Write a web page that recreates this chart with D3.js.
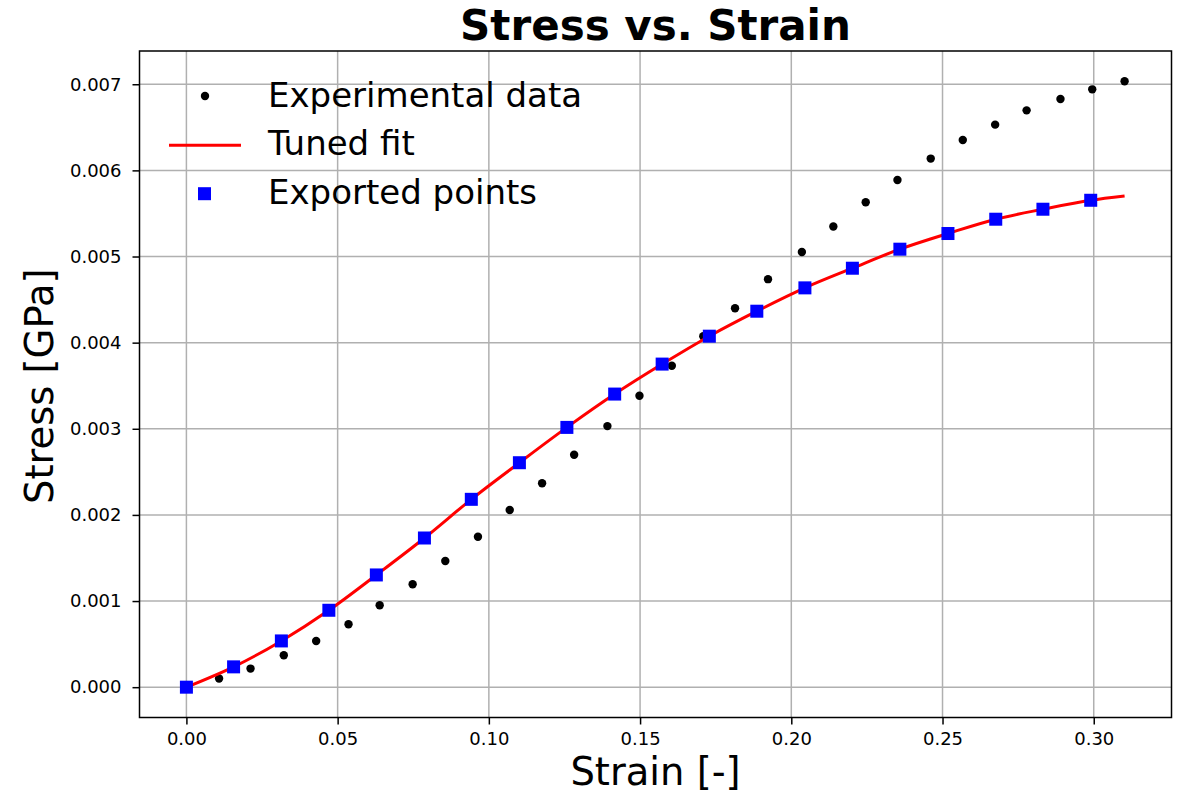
<!DOCTYPE html>
<html>
<head>
<meta charset="utf-8">
<script src="https://cdn.jsdelivr.net/npm/d3@7"></script>
<style>
  body { margin: 0; background: #fff; }
  svg text { font-family: "DejaVu Sans", sans-serif; }
  .grid line { stroke: #b0b0b0; stroke-width: 1.5; }
  .axis path { display: none; }
  .axis line { stroke: #000; stroke-width: 1.5; }
  .axis text { font-size: 18px; fill: #000; font-family: "DejaVu Sans", sans-serif; }
</style>
</head>
<body>
<svg width="1177" height="798"></svg>
<script>
const expStrain = [0.0108, 0.0212, 0.0322, 0.0429, 0.0536, 0.0639, 0.0748, 0.0856, 0.0964, 0.1069,
                   0.1176, 0.1282, 0.1392, 0.1498, 0.1605, 0.1709, 0.1814, 0.1923, 0.2035, 0.2139,
                   0.2246, 0.2351, 0.2461, 0.2567, 0.2674, 0.2778, 0.2890, 0.2995, 0.3102];
const expStress = [0.000100, 0.000216, 0.000371, 0.000537, 0.000731, 0.000951, 0.001195, 0.001465, 0.001747, 0.002057,
                   0.002367, 0.002698, 0.003031, 0.003383, 0.003731, 0.004075, 0.004400, 0.004737, 0.005053, 0.005348,
                   0.005630, 0.005889, 0.006137, 0.006353, 0.006531, 0.006697, 0.006828, 0.006941, 0.007034];

// exported points on the tuned fit
const expoStrain = [0.0000, 0.0156, 0.0314, 0.0471, 0.0628, 0.0787, 0.0942, 0.1101, 0.1258, 0.1416,
                    0.1573, 0.1729, 0.1886, 0.2045, 0.2202, 0.2359, 0.2518, 0.2676, 0.2832, 0.2990];
const expoStress = [0.000000, 0.000236, 0.000537, 0.000893, 0.001303, 0.001732, 0.002181, 0.002606, 0.003016, 0.003403,
                    0.003751, 0.004075, 0.004365, 0.004636, 0.004864, 0.005085, 0.005267, 0.005433, 0.005549, 0.005653];

// tuned fit curve end
const fitEndStrain = 0.3102;
const fitEndStress = 0.005703;

const xTicks = [0.00, 0.05, 0.10, 0.15, 0.20, 0.25, 0.30];
const yTicks = [0.000, 0.001, 0.002, 0.003, 0.004, 0.005, 0.006, 0.007];

const svg = d3.select('svg');
const margin = {top: 51, left: 139.5, right: 5.5, bottom: 80.5};
const WIDTH = +svg.attr('width');
const HEIGHT = +svg.attr('height');
const width = WIDTH - margin.left - margin.right;
const height = HEIGHT - margin.top - margin.bottom;

const xScale = d3.scaleLinear().domain([-0.01551, 0.32571]).range([0, width]);
const yScale = d3.scaleLinear().domain([-0.000352, 0.007386]).range([height, 0]);

const g = svg.append('g').attr('transform', 'translate(' + margin.left + ',' + margin.top + ')');

// grid
g.append('g').attr('class', 'grid')
    .selectAll('line.gx').data(xTicks).enter().append('line')
    .attr('x1', d => xScale(d)).attr('x2', d => xScale(d))
    .attr('y1', 0).attr('y2', height);
g.append('g').attr('class', 'grid')
    .selectAll('line.gy').data(yTicks).enter().append('line')
    .attr('y1', d => yScale(d)).attr('y2', d => yScale(d))
    .attr('x1', 0).attr('x2', width);

// axes
g.append('g').attr('class', 'axis')
    .attr('transform', 'translate(0,' + height + ')')
    .call(d3.axisBottom(xScale).tickValues(xTicks).tickFormat(d3.format('.2f')).tickSize(7).tickPadding(8));
g.append('g').attr('class', 'axis')
    .call(d3.axisLeft(yScale).tickValues(yTicks).tickFormat(d3.format('.3f')).tickSize(7).tickPadding(11));

// experimental dots
g.selectAll('.dot').data(expStrain).enter().append('circle')
    .attr('class', 'dot')
    .attr('cx', d => xScale(d))
    .attr('cy', (d, i) => yScale(expStress[i]))
    .attr('r', 4.2)
    .style('fill', '#000');

// tuned fit line
const fitPts = expoStrain.map((d, i) => [d, expoStress[i]]).concat([[fitEndStrain, fitEndStress]]);
g.append('path')
    .datum(fitPts)
    .attr('d', d3.line().x(d => xScale(d[0])).y(d => yScale(d[1])).curve(d3.curveMonotoneX))
    .style('fill', 'none')
    .style('stroke', '#ff0000')
    .style('stroke-width', 3);

// exported squares
const sq = 13;
g.selectAll('.sq').data(expoStrain).enter().append('rect')
    .attr('class', 'sq')
    .attr('x', d => xScale(d) - sq / 2)
    .attr('y', (d, i) => yScale(expoStress[i]) - sq / 2)
    .attr('width', sq).attr('height', sq)
    .style('fill', '#0000ff');

// frame
g.append('rect')
    .attr('width', width).attr('height', height)
    .style('fill', 'none').style('stroke', '#000').style('stroke-width', 1.5);

// title and labels
svg.append('text')
    .attr('x', margin.left + width / 2).attr('y', 39.5)
    .style('text-anchor', 'middle').style('font-size', '42px').style('font-weight', 'bold')
    .text('Stress vs. Strain');
svg.append('text')
    .attr('x', margin.left + width / 2).attr('y', 785)
    .style('text-anchor', 'middle').style('font-size', '38.5px')
    .text('Strain [-]');
svg.append('text')
    .attr('transform', 'translate(53,' + (margin.top + height / 2 + 2) + ') rotate(-90)')
    .style('text-anchor', 'middle').style('font-size', '38.5px')
    .text('Stress [GPa]');

// legend
const legend = svg.append('g').attr('transform', 'translate(0,0)');
legend.append('circle').attr('cx', 205).attr('cy', 96).attr('r', 4.2).style('fill', '#000');
legend.append('line').attr('x1', 169).attr('x2', 241).attr('y1', 145.3).attr('y2', 145.3)
    .style('stroke', '#ff0000').style('stroke-width', 3);
legend.append('rect').attr('x', 204.5 - sq / 2).attr('y', 193.7 - sq / 2).attr('width', sq).attr('height', sq)
    .style('fill', '#0000ff');
const legendLabels = ['Experimental data', 'Tuned fit', 'Exported points'];
legend.selectAll('.lt').data(legendLabels).enter().append('text')
    .attr('x', 268).attr('y', (d, i) => 106.7 + i * 48.5)
    .style('font-size', '34px')
    .text(d => d);
</script>
</body>
</html>
